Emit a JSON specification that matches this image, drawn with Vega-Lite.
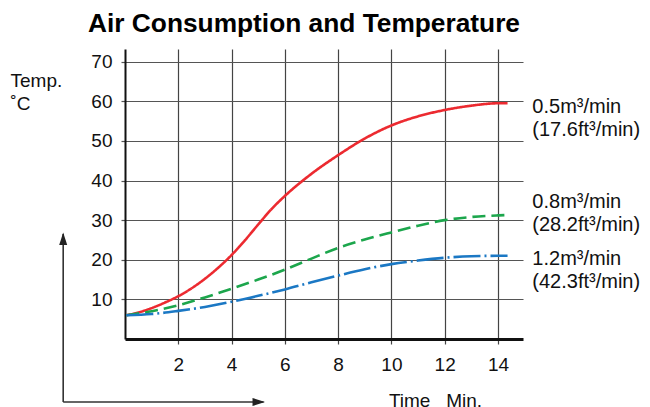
{
  "$schema": "https://vega.github.io/schema/vega-lite/v6.json",
  "width": 398,
  "height": 290,
  "autosize": {"type": "none"},
  "padding": {"left": 125, "top": 49, "right": 127, "bottom": 68},
  "background": "white",
  "config": {
    "font": "Liberation Sans",
    "view": {"stroke": null}
  },
  "title": {
    "text": "Air Consumption and Temperature",
    "font": "Liberation Sans",
    "fontSize": 26.3,
    "fontWeight": "bold",
    "color": "#000",
    "anchor": "start",
    "frame": "group",
    "dx": -37,
    "offset": 12
  },
  "datasets": {
    "curves": [
      {"series": "0.5", "t": 0.05, "temp": 6.0},
      {"series": "0.5", "t": 0.5, "temp": 6.7},
      {"series": "0.5", "t": 1.0, "temp": 7.8},
      {"series": "0.5", "t": 1.5, "temp": 9.2},
      {"series": "0.5", "t": 2.0, "temp": 10.8},
      {"series": "0.5", "t": 2.5, "temp": 12.8},
      {"series": "0.5", "t": 3.0, "temp": 15.2},
      {"series": "0.5", "t": 3.5, "temp": 18.0},
      {"series": "0.5", "t": 4.0, "temp": 21.2},
      {"series": "0.5", "t": 4.5, "temp": 24.9},
      {"series": "0.5", "t": 5.0, "temp": 28.9},
      {"series": "0.5", "t": 5.5, "temp": 32.8},
      {"series": "0.5", "t": 6.0, "temp": 36.1},
      {"series": "0.5", "t": 7.0, "temp": 41.7},
      {"series": "0.5", "t": 8.0, "temp": 46.4},
      {"series": "0.5", "t": 9.0, "temp": 50.6},
      {"series": "0.5", "t": 10.0, "temp": 53.9},
      {"series": "0.5", "t": 11.0, "temp": 56.2},
      {"series": "0.5", "t": 12.0, "temp": 57.8},
      {"series": "0.5", "t": 13.0, "temp": 58.9},
      {"series": "0.5", "t": 14.0, "temp": 59.5},
      {"series": "0.5", "t": 14.36, "temp": 59.5},
      {"series": "0.8", "t": 0.05, "temp": 6.0},
      {"series": "0.8", "t": 1.0, "temp": 7.0},
      {"series": "0.8", "t": 2.0, "temp": 8.5},
      {"series": "0.8", "t": 3.0, "temp": 10.5},
      {"series": "0.8", "t": 4.0, "temp": 12.7},
      {"series": "0.8", "t": 5.0, "temp": 15.0},
      {"series": "0.8", "t": 6.0, "temp": 17.5},
      {"series": "0.8", "t": 7.0, "temp": 20.3},
      {"series": "0.8", "t": 8.0, "temp": 23.0},
      {"series": "0.8", "t": 9.0, "temp": 25.1},
      {"series": "0.8", "t": 10.0, "temp": 26.9},
      {"series": "0.8", "t": 11.0, "temp": 28.6},
      {"series": "0.8", "t": 12.0, "temp": 30.0},
      {"series": "0.8", "t": 13.0, "temp": 30.8},
      {"series": "0.8", "t": 14.0, "temp": 31.2},
      {"series": "0.8", "t": 14.36, "temp": 31.3},
      {"series": "1.2", "t": 0.05, "temp": 6.0},
      {"series": "1.2", "t": 1.0, "temp": 6.3},
      {"series": "1.2", "t": 2.0, "temp": 7.1},
      {"series": "1.2", "t": 3.0, "temp": 8.1},
      {"series": "1.2", "t": 4.0, "temp": 9.4},
      {"series": "1.2", "t": 5.0, "temp": 10.9},
      {"series": "1.2", "t": 6.0, "temp": 12.5},
      {"series": "1.2", "t": 7.0, "temp": 14.3},
      {"series": "1.2", "t": 8.0, "temp": 16.0},
      {"series": "1.2", "t": 9.0, "temp": 17.6},
      {"series": "1.2", "t": 10.0, "temp": 18.9},
      {"series": "1.2", "t": 11.0, "temp": 19.8},
      {"series": "1.2", "t": 12.0, "temp": 20.5},
      {"series": "1.2", "t": 13.0, "temp": 20.9},
      {"series": "1.2", "t": 14.0, "temp": 21.0},
      {"series": "1.2", "t": 14.36, "temp": 21.0}
    ],
    "labels": [
      {"series": "0.5", "t": 15.29, "temp": 57.0, "label": "0.5m³/min\n(17.6ft³/min)"},
      {"series": "0.8", "t": 15.29, "temp": 33.1, "label": "0.8m³/min\n(28.2ft³/min)"},
      {"series": "1.2", "t": 15.29, "temp": 18.7, "label": "1.2m³/min\n(42.3ft³/min)"}
    ],
    "arrows": [
      {"t": -2.32, "temp": -15.9, "t2": -2.32, "temp2": 26.5, "dir": "up"},
      {"t": -2.32, "temp": -15.9, "t2": 5.2, "temp2": -15.9, "dir": "right"}
    ]
  },
  "encoding": {
    "x": {
      "field": "t", "type": "quantitative",
      "scale": {"domain": [0, 14.94], "nice": false, "zero": false},
      "axis": {
        "title": "Time\u00a0\u00a0\u00a0Min.",
        "values": [2, 4, 6, 8, 10, 12, 14],
        "grid": true,
        "gridColor": "#444",
        "gridWidth": 1.2,
        "gridOpacity": 1,
        "domainColor": "#111",
        "domainWidth": 3,
        "tickColor": "#444",
        "tickWidth": 1.2,
        "tickSize": 5,
        "labelFontSize": 19,
        "labelColor": "#111",
        "labelPadding": 11,
        "labelFont": "Liberation Sans",
        "titleFont": "Liberation Sans",
        "titleFontSize": 19,
        "titleFontWeight": "normal",
        "titleColor": "#111",
        "titleAlign": "center",
        "titleBaseline": "alphabetic",
        "titleX": 310,
        "titleY": 67
      }
    },
    "y": {
      "field": "temp", "type": "quantitative",
      "scale": {"domain": [0, 73.2], "nice": false, "zero": false},
      "axis": {
        "title": ["Temp.", "˚C"],
        "values": [10, 20, 30, 40, 50, 60, 70],
        "grid": true,
        "gridColor": "#555",
        "gridWidth": 1.2,
        "gridOpacity": 1,
        "domainColor": "#111",
        "domainWidth": 2,
        "tickColor": "#555",
        "tickWidth": 1.2,
        "tickSize": 4,
        "labelFontSize": 19,
        "labelColor": "#111",
        "labelPadding": 9,
        "labelFont": "Liberation Sans",
        "titleFont": "Liberation Sans",
        "titleFontSize": 19,
        "titleFontWeight": "normal",
        "titleColor": "#111",
        "titleAngle": 0,
        "titleAlign": "left",
        "titleBaseline": "alphabetic",
        "titleLineHeight": 23,
        "titleX": -115,
        "titleY": 37
      }
    }
  },
  "layer": [
    {
      "data": {"name": "curves"},
      "mark": {"type": "line", "interpolate": "monotone", "strokeWidth": 2.6, "strokeCap": "butt"},
      "encoding": {
        "color": {
          "field": "series", "type": "nominal",
          "scale": {"domain": ["0.5", "0.8", "1.2"], "range": ["#ec2a30", "#1ca64c", "#1b78c4"]},
          "legend": null
        },
        "strokeDash": {
          "field": "series", "type": "nominal",
          "scale": {"domain": ["0.5", "0.8", "1.2"], "range": [[1, 0], [13, 6], [27, 4, 2, 4]]},
          "legend": null
        }
      }
    },
    {
      "data": {"name": "labels"},
      "mark": {"type": "text", "align": "left", "baseline": "alphabetic", "fontSize": 20, "lineHeight": 23, "lineBreak": "\n", "color": "#111", "font": "Liberation Sans"},
      "encoding": {
        "text": {"field": "label"}
      }
    },
    {
      "data": {"name": "arrows"},
      "mark": {"type": "rule", "color": "#333", "strokeWidth": 1.6},
      "encoding": {
        "x2": {"field": "t2"},
        "y2": {"field": "temp2"}
      }
    },
    {
      "data": {"name": "arrows"},
      "transform": [{"filter": "datum.dir === 'up'"}],
      "mark": {"type": "point", "filled": true, "color": "#222", "opacity": 1, "size": 100, "shape": "M0,-0.3L-0.8,2.2L0.8,2.2Z"},
      "encoding": {
        "x": {"field": "t2", "type": "quantitative"},
        "y": {"field": "temp2", "type": "quantitative"}
      }
    },
    {
      "data": {"name": "arrows"},
      "transform": [{"filter": "datum.dir === 'right'"}],
      "mark": {"type": "point", "filled": true, "color": "#222", "opacity": 1, "size": 100, "shape": "M0.3,0L-2.2,-0.8L-2.2,0.8Z"},
      "encoding": {
        "x": {"field": "t2", "type": "quantitative"},
        "y": {"field": "temp2", "type": "quantitative"}
      }
    }
  ]
}
